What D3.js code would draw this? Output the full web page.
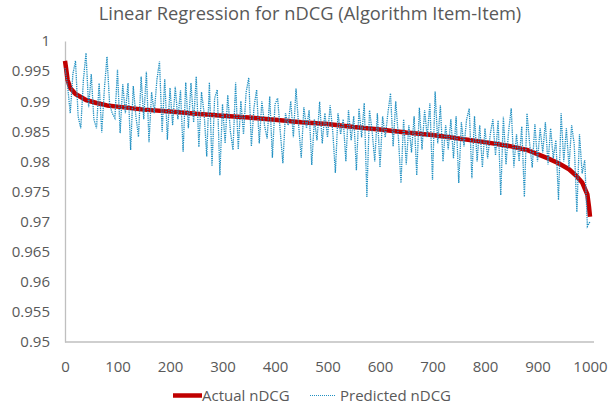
<!DOCTYPE html>
<html>
<head>
<meta charset="utf-8">
<script src="https://cdn.jsdelivr.net/npm/d3@7"></script>
<style>
    body { margin: 0; background: #fff; }
    text { font-family: "Open Sans", sans-serif; fill: #595959; }
</style>
</head>
<body>
<div id="chart"></div>
<script>
// Actual nDCG (sorted)
var actualX = [0, 2, 5, 10, 20, 40, 60, 80, 100, 150, 200, 250, 300, 350, 400, 450, 500, 550, 600,
    650, 700, 750, 800, 850, 880, 900, 920, 940, 960, 975, 985, 990, 995, 998, 1000];
var actualY = [0.9967, 0.9955, 0.9935, 0.9922, 0.9912, 0.9902, 0.9897, 0.9893, 0.9891, 0.9886,
    0.9883, 0.9879, 0.9876, 0.9873, 0.9869, 0.9865, 0.9862, 0.9857, 0.9853, 0.9848, 0.9844,
    0.9838, 0.9832, 0.9825, 0.9819, 0.9812, 0.9805, 0.9797, 0.9787, 0.9775, 0.9765, 0.9755,
    0.9745, 0.9725, 0.9708];

// Predicted nDCG, one reading every 5 items (0..1000)
var predStep = 5;
var predicted = [
    0.9955, 0.9925, 0.9880, 0.9945, 0.9967, 0.9875, 0.9855, 0.9935, 0.9980, 0.9890,
    0.9945, 0.9870, 0.9855, 0.9930, 0.9848, 0.9920, 0.9974, 0.9895, 0.9880, 0.9872,
    0.9952, 0.9847, 0.9928, 0.9880, 0.9930, 0.9819, 0.9925, 0.9875, 0.9841, 0.9941,
    0.9870, 0.9949, 0.9832, 0.9915, 0.9880, 0.9935, 0.9966, 0.9849, 0.9937, 0.9836,
    0.9922, 0.9860, 0.9924, 0.9870, 0.9918, 0.9816, 0.9931, 0.9855, 0.9930, 0.9865,
    0.9941, 0.9824, 0.9915, 0.9880, 0.9808, 0.9931, 0.9792, 0.9905, 0.9919, 0.9777,
    0.9895, 0.9830, 0.9910, 0.9850, 0.9819, 0.9931, 0.9820, 0.9900, 0.9845, 0.9915,
    0.9939, 0.9825, 0.9890, 0.9919, 0.9830, 0.9900, 0.9860, 0.9838, 0.9908, 0.9806,
    0.9895, 0.9905, 0.9850, 0.9797, 0.9880, 0.9860, 0.9900, 0.9840, 0.9921, 0.9860,
    0.9806, 0.9890, 0.9855, 0.9885, 0.9794, 0.9870, 0.9835, 0.9899, 0.9830, 0.9880,
    0.9840, 0.9893, 0.9850, 0.9781, 0.9880, 0.9845, 0.9870, 0.9800, 0.9885, 0.9835,
    0.9875, 0.9785, 0.9888, 0.9840, 0.9897, 0.9741, 0.9885, 0.9850, 0.9800, 0.9880,
    0.9790, 0.9875, 0.9840, 0.9880, 0.9913, 0.9825, 0.9900, 0.9840, 0.9764, 0.9870,
    0.9795, 0.9860, 0.9815, 0.9875, 0.9777, 0.9889, 0.9820, 0.9885, 0.9840, 0.9897,
    0.9769, 0.9916, 0.9830, 0.9893, 0.9800, 0.9860, 0.9820, 0.9870, 0.9805, 0.9875,
    0.9764, 0.9865, 0.9825, 0.9870, 0.9888, 0.9772, 0.9875, 0.9800, 0.9860, 0.9790,
    0.9855, 0.9805, 0.9845, 0.9870, 0.9810, 0.9868, 0.9744, 0.9874, 0.9795, 0.9850,
    0.9888, 0.9790, 0.9845, 0.9800, 0.9858, 0.9741, 0.9880, 0.9830, 0.9790, 0.9862,
    0.9800, 0.9855, 0.9815, 0.9865, 0.9795, 0.9855, 0.9805, 0.9835, 0.9736, 0.9880,
    0.9800, 0.9855, 0.9790, 0.9860, 0.9828, 0.9716, 0.9845, 0.9780, 0.9802, 0.9692,
    0.9700
];

var xTicks = [0, 100, 200, 300, 400, 500, 600, 700, 800, 900, 1000];
var yTicks = [0.95, 0.955, 0.96, 0.965, 0.97, 0.975, 0.98, 0.985, 0.99, 0.995, 1];

var width = 610;
var height = 408;

var svg = d3.select("#chart").append("svg")
    .attr("width", width)
    .attr("height", height);

var x = d3.scaleLinear().domain([0, 1000]).range([65, 590]);
var y = d3.scaleLinear().domain([0.95, 1]).range([342, 41]);

// title
svg.append("text")
    .attr("x", 310)
    .attr("y", 19.5)
    .attr("text-anchor", "middle")
    .style("font-size", "18.3px")
    .text("Linear Regression for nDCG (Algorithm Item-Item)");

// axes
var yAxis = svg.append("g")
    .attr("transform", "translate(65,0)")
    .call(d3.axisLeft(y).tickValues(yTicks).tickSize(0).tickPadding(15)
        .tickFormat(function (d) { return d3.format("")(+d.toFixed(3)); }));
yAxis.select(".domain").attr("stroke", "#bfbfbf").attr("stroke-width", 1.3);
yAxis.selectAll("text").style("font-size", "15px").attr("fill", "#595959");

var xAxis = svg.append("g")
    .attr("transform", "translate(0,342)")
    .call(d3.axisBottom(x).tickValues(xTicks).tickSize(0).tickPadding(19)
        .tickFormat(d3.format("d")));
xAxis.select(".domain").attr("stroke", "#bfbfbf").attr("stroke-width", 1.3)
    .attr("d", "M65,0H594");
xAxis.selectAll("text").style("font-size", "15px").attr("fill", "#595959");

// actual nDCG
var actualLine = d3.line()
    .x(function (d, i) { return x(actualX[i]); })
    .y(function (d) { return y(d); });

svg.append("path")
    .datum(actualY)
    .attr("d", actualLine)
    .attr("fill", "none")
    .attr("stroke", "#c00000")
    .attr("stroke-width", 4.5)
    .attr("stroke-linejoin", "round");

// predicted nDCG
var predLine = d3.line()
    .x(function (d, i) { return x(i * predStep); })
    .y(function (d) { return y(d); });

svg.append("path")
    .datum(predicted)
    .attr("d", predLine)
    .attr("fill", "none")
    .attr("stroke", "#2190c2")
    .attr("stroke-width", 1.3)
    .attr("stroke-dasharray", "1.3,0.9");

// legend
var legend = svg.append("g").attr("transform", "translate(0,395.5)");

legend.append("line")
    .attr("x1", 173).attr("x2", 202)
    .attr("stroke", "#c00000")
    .attr("stroke-width", 4.5);
legend.append("text")
    .attr("x", 202).attr("y", 5)
    .style("font-size", "15px")
    .text("Actual nDCG");

legend.append("line")
    .attr("x1", 310).attr("x2", 335)
    .attr("stroke", "#2190c2")
    .attr("stroke-width", 1)
    .attr("stroke-dasharray", "1,1");
legend.append("text")
    .attr("x", 340).attr("y", 5)
    .style("font-size", "15px")
    .text("Predicted nDCG");
</script>
</body>
</html>
